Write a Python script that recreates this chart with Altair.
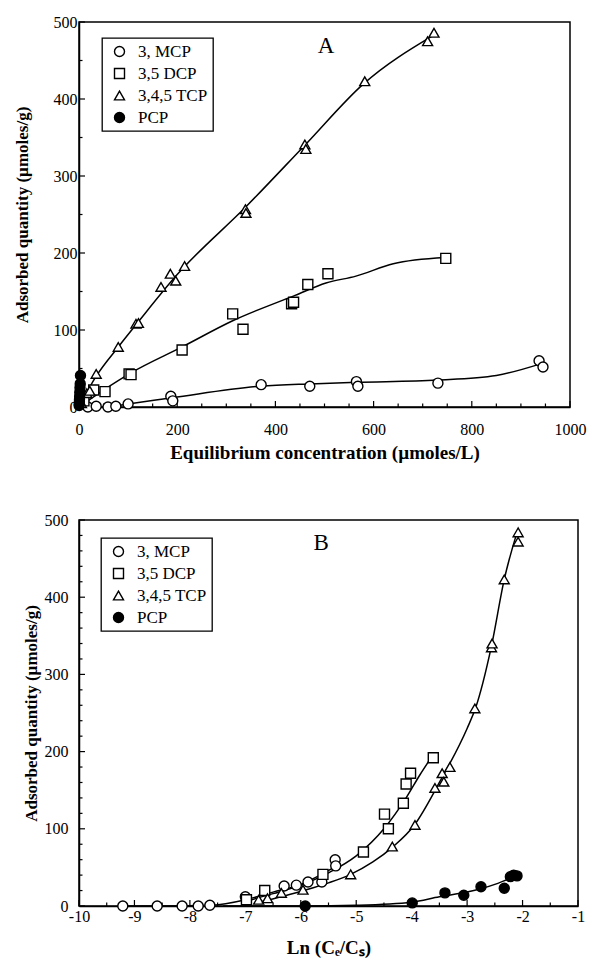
import altair as alt
import pandas as pd

SPECIES = ["3, MCP", "3,5 DCP", "3,4,5 TCP", "PCP"]
SHAPES = ["circle", "square", "triangle-up", "circle"]
FILLS = ["white", "white", "white", "black"]
STROKES = ["black", "black", "black", "black"]

# ---------------- Panel A : adsorbed quantity vs equilibrium concentration
A_MCP_x = [18, 35, 59, 75, 100, 187, 191, 371, 470, 565, 568, 731, 937, 945]
A_MCP_y = [0, 1, 0, 1, 4, 14, 8, 29, 27, 33, 27, 31, 60, 52]
A_DCP_x = [10, 30, 53, 102, 106, 210, 313, 334, 433, 437, 466, 507, 747]
A_DCP_y = [8, 22, 20, 43, 42, 74, 121, 101, 134, 136, 159, 173, 193]
A_TCP_x = [5, 16, 22, 35, 80, 116, 121, 167, 186, 197, 215, 339, 340, 460, 462, 582, 710, 723]
A_TCP_y = [5, 18, 21, 43, 78, 108, 109, 156, 173, 164, 183, 257, 252, 341, 335, 423, 475, 486]
A_PCP_x = [0.3, 0.5, 0.8, 1.0, 1.3, 1.6, 2.0, 2.5, 3.0]
A_PCP_y = [2, 4, 7, 10, 14, 19, 25, 30, 41]

# fitted curves
A_MCP_cx = [0, 50, 100, 190, 370, 470, 565, 730, 850, 940]
A_MCP_cy = [0, 0, 4, 12, 27, 30, 32, 35, 41, 56]
A_DCP_cx = [0, 50, 105, 210, 313, 440, 503, 564, 640, 745]
A_DCP_cy = [0, 22, 44, 78, 112, 145, 161, 170, 186, 194]
A_TCP_cx = [0, 35, 80, 120, 200, 340, 460, 580, 720]
A_TCP_cy = [0, 40, 78, 110, 172, 260, 340, 420, 482]
A_PCP_cx = [0, 0.5, 1, 2, 3]
A_PCP_cy = [0, 4, 10, 25, 41]

# ---------------- Panel B : adsorbed quantity vs Ln(Ce/Cs)
B_MCP_x = [-9.21, -8.59, -8.14, -7.85, -7.64, -7.00, -6.30, -6.08, -5.87, -5.62, -5.38, -5.37]
B_MCP_y = [0, 0, 0, 0, 1, 12, 26, 27, 31, 31, 60, 52]
B_DCP_x = [-6.98, -6.65, -5.60, -4.87, -4.49, -4.42, -4.15, -4.10, -4.02, -3.61]
B_DCP_y = [8, 20, 41, 70, 119, 100, 133, 158, 172, 192]
B_TCP_x = [-6.76, -6.60, -6.35, -5.96, -5.10, -4.35, -3.94, -3.58, -3.45, -3.42, -3.31, -2.86, -2.56, -2.55, -2.33, -2.08, -2.08]
B_TCP_y = [8, 10, 17, 21, 41, 77, 105, 153, 172, 161, 180, 256, 335, 340, 423, 472, 484]
B_PCP_x = [-5.92, -3.99, -3.40, -3.06, -2.75, -2.33, -2.22, -2.16, -2.10]
B_PCP_y = [0, 4, 17, 14, 25, 23, 38, 40, 39]

B_MCP_cx = [-9.3, -8.5, -7.6, -7.0, -6.5, -6.0, -5.4]
B_MCP_cy = [0, 0, 1, 8, 18, 28, 50]
B_DCP_cx = [-7.0, -6.5, -6.0, -5.5, -5.0, -4.5, -4.1, -3.85, -3.65]
B_DCP_cy = [6, 16, 27, 43, 65, 100, 140, 170, 192]
B_TCP_cx = [-6.8, -6.3, -5.9, -5.5, -5.1, -4.7, -4.35, -3.95, -3.5, -3.0, -2.85, -2.56, -2.33, -2.1]
B_TCP_cy = [4, 13, 21, 30, 41, 57, 76, 105, 160, 230, 256, 337, 423, 484]
B_PCP_cx = [-7.4, -6.5, -5.92, -5.0, -4.0, -3.5, -3.0, -2.5, -2.1]
B_PCP_cy = [0, 0, 0, 1, 5, 12, 18, 28, 40]

# axis ticks
A_X_MAJOR = [0, 200, 400, 600, 800, 1000]
A_X_MINOR = [50, 100, 150, 250, 300, 350, 450, 500, 550, 650, 700, 750, 850, 900, 950]
A_Y_MAJOR = [0, 100, 200, 300, 400, 500]
A_Y_MINOR = [50, 150, 250, 350, 450]
B_X_MAJOR = [-10, -9, -8, -7, -6, -5, -4, -3, -2, -1]
B_X_MINOR = [-9.5, -8.5, -7.5, -6.5, -5.5, -4.5, -3.5, -2.5, -1.5]
B_Y_MAJOR = [0, 100, 200, 300, 400, 500]
B_Y_MINOR = [20, 40, 60, 80, 120, 140, 160, 180, 220, 240, 260, 280, 320, 340, 360, 380, 420, 440, 460, 480]

SERIF = "Liberation Serif"


def frame(series):
    rows = []
    for name, xs, ys in series:
        for x, y in zip(xs, ys):
            rows.append({"species": name, "x": x, "y": y})
    return pd.DataFrame(rows)


def panel(pts, curves, xdom, xmaj, xmin, ymaj, ymin, xtitle, w, h,
          label, lx, ly, legx, legy, xlp, xtp, ylp, ytp):
    xaxis = alt.Axis(title=xtitle, values=xmaj, ticks=False, grid=False,
                     labelPadding=xlp, titlePadding=xtp, labelFlush=False,
                     titleFontSize=19, labelExpr="'' + datum.value")
    yaxis = alt.Axis(title="Adsorbed quantity (\u00b5moles/g)", values=ymaj,
                     ticks=False, grid=False, labelPadding=ylp, titlePadding=ytp,
                     labelFlush=False, titleFontSize=17)
    xs = alt.Scale(domain=xdom, nice=False, zero=False)
    ys = alt.Scale(domain=[0, 500], nice=False, zero=False)

    def X(f):
        return alt.X(f, type="quantitative", scale=xs, axis=xaxis)

    def Y(f):
        return alt.Y(f, type="quantitative", scale=ys, axis=yaxis)

    lines = alt.Chart(curves).mark_line(
        color="black", strokeWidth=1.5, interpolate="monotone", clip=True
    ).encode(x=X("x"), y=Y("y"), detail="species:N")

    leg = alt.Legend(
        orient="none", legendX=legx, legendY=legy, title=None,
        symbolStrokeColor="black", symbolStrokeWidth=1.4,
    )
    points = alt.Chart(pts).mark_point(
        filled=True, strokeWidth=1.4, size=100, opacity=1
    ).encode(
        x=X("x"), y=Y("y"),
        shape=alt.Shape("species:N", scale=alt.Scale(domain=SPECIES, range=SHAPES), legend=leg),
        fill=alt.Fill("species:N", scale=alt.Scale(domain=SPECIES, range=FILLS), legend=leg),
        stroke=alt.Stroke("species:N", scale=alt.Scale(domain=SPECIES, range=STROKES), legend=leg),
    )

    xt_major = alt.Chart(pd.DataFrame({"t": xmaj})).mark_rule(color="black", strokeWidth=1.2).encode(
        x=X("t"), y=alt.value(h), y2=alt.value(h - 6))
    xt_minor = alt.Chart(pd.DataFrame({"t": xmin})).mark_rule(color="black", strokeWidth=1.2).encode(
        x=X("t"), y=alt.value(h), y2=alt.value(h - 3.5))
    yt_major = alt.Chart(pd.DataFrame({"t": ymaj})).mark_rule(color="black", strokeWidth=1.2).encode(
        y=Y("t"), x=alt.value(0), x2=alt.value(6))
    yt_minor = alt.Chart(pd.DataFrame({"t": ymin})).mark_rule(color="black", strokeWidth=1.2).encode(
        y=Y("t"), x=alt.value(0), x2=alt.value(3.5))

    txt = alt.Chart(pd.DataFrame({"x": [lx], "y": [ly], "t": [label]})).mark_text(
        font=SERIF, fontSize=23, color="black"
    ).encode(x=X("x"), y=Y("y"), text="t:N")

    return alt.layer(xt_major, xt_minor, yt_major, yt_minor, lines, points, txt).properties(
        width=w, height=h)


ptsA = frame([(SPECIES[0], A_MCP_x, A_MCP_y), (SPECIES[1], A_DCP_x, A_DCP_y),
              (SPECIES[2], A_TCP_x, A_TCP_y), (SPECIES[3], A_PCP_x, A_PCP_y)])
curA = frame([(SPECIES[0], A_MCP_cx, A_MCP_cy), (SPECIES[1], A_DCP_cx, A_DCP_cy),
              (SPECIES[2], A_TCP_cx, A_TCP_cy), (SPECIES[3], A_PCP_cx, A_PCP_cy)])
ptsB = frame([(SPECIES[0], B_MCP_x, B_MCP_y), (SPECIES[1], B_DCP_x, B_DCP_y),
              (SPECIES[2], B_TCP_x, B_TCP_y), (SPECIES[3], B_PCP_x, B_PCP_y)])
curB = frame([(SPECIES[0], B_MCP_cx, B_MCP_cy), (SPECIES[1], B_DCP_cx, B_DCP_cy),
              (SPECIES[2], B_TCP_cx, B_TCP_cy), (SPECIES[3], B_PCP_cx, B_PCP_cy)])

chartA = panel(ptsA, curA, [0, 1000], A_X_MAJOR, A_X_MINOR, A_Y_MAJOR, A_Y_MINOR,
               "Equilibrium concentration (\u00b5moles/L)", 491, 385,
               "A", 503, 469, 23, 16, 14, 6, 2, 22)
chartB = panel(ptsB, curB, [-10, -1], B_X_MAJOR, B_X_MINOR, B_Y_MAJOR, B_Y_MINOR,
               "Ln (C\u2091/C\u209b)", 499, 386,
               "B", -5.63, 470, 22, 18, 2, 14, 11, 4)

chart = alt.vconcat(chartA, chartB, spacing=48).resolve_scale(
    shape="independent", fill="independent", stroke="independent"
).resolve_legend(shape="independent", fill="independent", stroke="independent").properties(
    padding={"left": 12, "top": 13, "right": 0, "bottom": 0},
    background="white"
).configure_view(
    stroke="black", strokeWidth=1.5
).configure_axis(
    domainColor="black", domainWidth=1.5, labelColor="black", titleColor="black",
    labelFont=SERIF, labelFontSize=16, titleFont=SERIF,
    titleFontWeight="bold"
).configure_legend(
    strokeColor="black", strokeWidth=1.3, fillColor="white", padding=5,
    labelFont=SERIF, labelFontSize=17, labelColor="black", symbolSize=100,
    symbolStrokeColor="black", symbolStrokeWidth=1.4, rowPadding=4, labelOffset=10,
    symbolOffset=4, symbolOpacity=1
)

chart.save("out.html", embed_options={"renderer": "svg", "actions": False})
